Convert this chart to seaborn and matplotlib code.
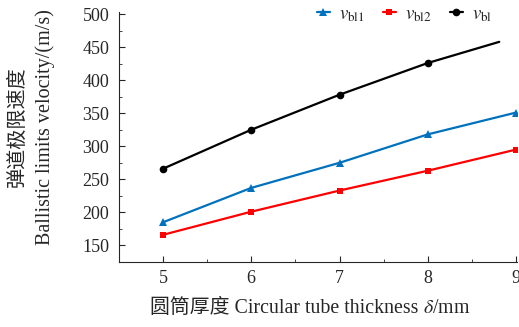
import matplotlib
matplotlib.use("Agg")
import matplotlib.pyplot as plt
from matplotlib.ticker import MultipleLocator
import pandas as pd
import seaborn as sns

# thickness (mm) and ballistic limit velocity (m/s)
x_bl1 = [5, 6, 7, 8, 9]
v_bl1 = [185, 237, 275, 318, 351]
x_bl2 = [5, 6, 7, 8, 9]
v_bl2 = [166, 201, 233, 263, 295]
x_bl = [5, 6, 7, 8, 8.81]
v_bl = [266, 325, 378, 426, 458]

sns.set_style("ticks")
plt.rcParams['font.family'] = ['Liberation Serif', 'Noto Sans CJK SC']
plt.rcParams['mathtext.fontset'] = 'stix'
plt.rcParams['font.size'] = 13

fig = plt.figure(figsize=(5.19, 3.27), dpi=100)
ax = fig.add_axes([0.229, 0.199, 0.767, 0.764])

df1 = pd.DataFrame({'t': x_bl1, 'v': v_bl1})
df2 = pd.DataFrame({'t': x_bl2, 'v': v_bl2})
df3 = pd.DataFrame({'t': x_bl, 'v': v_bl})

sns.lineplot(data=df1, x='t', y='v', ax=ax, color='#0072BD', marker='^',
             markersize=5.5, markeredgewidth=0, linewidth=1.6,
             label=r'$v_{\rm bl1}$')
sns.lineplot(data=df2, x='t', y='v', ax=ax, color='#FF0000', marker='s',
             markersize=5, markeredgewidth=0, linewidth=1.6,
             label=r'$v_{\rm bl2}$')
sns.lineplot(data=df3, x='t', y='v', ax=ax, color='black', marker='o',
             markersize=5.5, markeredgewidth=0, linewidth=1.6,
             markevery=[0, 1, 2, 3], label=r'$v_{\rm bl}$')

ax.set_xlim(4.5, 9.01)
ax.set_ylim(125, 503)
ax.xaxis.set_major_locator(MultipleLocator(1))
ax.xaxis.set_minor_locator(MultipleLocator(0.5))
ax.yaxis.set_major_locator(MultipleLocator(50))
ax.yaxis.set_minor_locator(MultipleLocator(25))
ax.tick_params(which='both', direction='in', labelsize=13)
ax.tick_params(which='major', length=4)
ax.tick_params(which='minor', length=2.5)
ax.tick_params(axis='x', pad=6)
ax.tick_params(axis='y', pad=7)
sns.despine(ax=ax)

ax.set_xlabel('')
ax.set_ylabel('')

# y label, two lines drawn separately
fig.text(18 / 519, 1 - 127 / 327, '弹道极限速度', fontsize=14.5, rotation=90,
         ha='center', va='center')
fig.text(45 / 519, 1 - 127 / 327, 'Ballistic limits velocity/(m/s)', fontsize=14.5,
         rotation=90, ha='center', va='center')

# x label: CJK text plus italic delta (mathtext cannot draw the CJK part)
lab = fig.text(150 / 519, 0.042, '圆筒厚度 Circular tube thickness ', fontsize=14.3,
               ha='left', va='baseline')
ax.annotate(r'$\delta$/mm', xy=(1, 0), xycoords=lab, fontsize=14.3,
            ha='left', va='bottom')

ax.legend(loc='center right', bbox_to_anchor=(0.972, 0.99), ncol=3, frameon=False,
          fontsize=13.5, handlelength=0.7, columnspacing=0.95, handletextpad=0.5,
          borderpad=0.2)

fig.savefig('out.png', dpi=100)
